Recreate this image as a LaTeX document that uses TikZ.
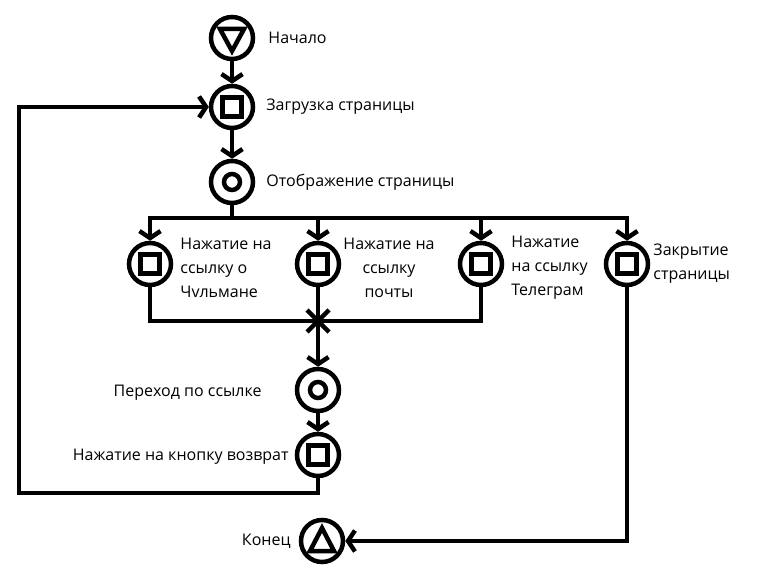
\documentclass[tikz,border=0pt]{standalone}
\usepackage{fontspec}
\setmainfont{Open Sans}
\usetikzlibrary{arrows.meta,positioning}

\tikzset{
  line/.style={line width=4.5pt},
  flow/.style={line, -{Straight Barb[length=7pt,width=21pt]}},
  state/.style={circle, draw, line width=4.5pt, minimum size=42pt, inner sep=0pt},
  startst/.style={state, path picture={
      \draw[line, line join=miter] ([shift={(-12pt,9pt)}]path picture bounding box.center)
        -- ([shift={(12pt,9pt)}]path picture bounding box.center)
        -- ([shift={(0pt,-13pt)}]path picture bounding box.center) -- cycle;}},
  stopst/.style={state, path picture={
      \draw[line, line join=miter] ([shift={(-12pt,-10pt)}]path picture bounding box.center)
        -- ([shift={(12pt,-10pt)}]path picture bounding box.center)
        -- ([shift={(0pt,13pt)}]path picture bounding box.center) -- cycle;}},
  act/.style={state, path picture={
      \draw[line] ([shift={(-9.5pt,-9.5pt)}]path picture bounding box.center)
        rectangle ([shift={(9.5pt,9.5pt)}]path picture bounding box.center);}},
  show/.style={state, path picture={
      \draw[line] (path picture bounding box.center) circle (8pt);}},
  lbl/.style={inner sep=0pt, font=\fontsize{16}{24}\selectfont}
}

\begin{document}
\begin{tikzpicture}[x=1pt, y=-1pt]
  \useasboundingbox (0,0) rectangle (760,572);

  % nodes
  \node (start) [startst] at (232,38) {};
  \node (load) [act] at (232,107) {};
  \node (disp) [show] at (232,182) {};
  \node (a1) [act] at (150,264) {};
  \node (a2) [act] at (318,264) {};
  \node (a3) [act] at (481,264) {};
  \node (a4) [act] at (627,264) {};
  \node (go) [show] at (318,390) {};
  \node (back) [act] at (318,455) {};
  \node (stop) [stopst] at (322,541) {};

  \coordinate (fork) at (232,218);
  \coordinate (join) at (318,321);
  \coordinate (loop) at (19,493);

  % labels
  \node (tstart) [lbl, right=13pt of start] {Начало};
  \node (tload) [lbl, right=11pt of load] {Загрузка страницы};
  \node (tdisp) [lbl, right=11pt of disp] {Отображение страницы};
  \node (ta1) [lbl, align=left, right=7pt of a1, yshift=-4pt] {Нажатие на\\ссылку о\\Чvльмане};
  \node (ta2) [lbl, align=center, right=2pt of a2, yshift=-4pt] {Нажатие на\\ссылку\\почты};
  \node (ta3) [lbl, align=left, right=7pt of a3, yshift=-4pt] {Нажатие\\на ссылку\\Телеграм};
  \node (ta4) [lbl, align=left, right=3pt of a4] {Закрытие\\страницы};
  \node (tgo) [lbl, left=33pt of go, yshift=-3pt] {Переход по ссылке};
  \node (tback) [lbl, left=6pt of back, yshift=-2pt] {Нажатие на кнопку возврат};
  \node (tstop) [lbl, left=8pt of stop] {Конец};

  % connectors
  \draw [flow] (start) -- (load);
  \draw [flow] (load) -- (disp);
  \draw [line] (disp) -- (fork);
  \draw [flow] (fork) -| (a1);
  \draw [flow] (fork) -| (a4);
  \draw [flow] (fork -| a2) -- (a2);
  \draw [flow] (fork -| a3) -- (a3);

  \draw [line] (a1) |- (join);
  \draw [line] (a3) |- (join);
  \draw [line] (a2) -- (join);
  \draw [line] (join) ++(-11,-11) -- ++(22,22);
  \draw [line] (join) ++(11,-11) -- ++(-22,22);
  \draw [flow] (join) -- (go);
  \draw [flow] (go) -- (back);

  \draw [flow] (back) |- (loop) |- (load);
  \draw [flow] (a4) |- (stop);
\end{tikzpicture}
\end{document}
